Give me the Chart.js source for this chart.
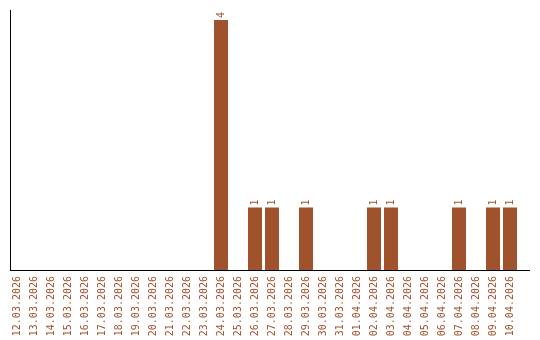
<!DOCTYPE html>
<html>
<head>
<meta charset="utf-8">
<script src="https://cdn.jsdelivr.net/npm/chart.js@4/dist/chart.umd.min.js"></script>
<style>
  html, body { margin:0; padding:0; background:#fff; }
  #wrap { width:540px; height:340px; position:relative; }
</style>
</head>
<body>
<div id="wrap"><canvas id="c"></canvas></div>
<script>
const DAYS = ['12.03.2026','13.03.2026','14.03.2026','15.03.2026','16.03.2026','17.03.2026','18.03.2026',
  '19.03.2026','20.03.2026','21.03.2026','22.03.2026','23.03.2026','24.03.2026','25.03.2026','26.03.2026',
  '27.03.2026','28.03.2026','29.03.2026','30.03.2026','31.03.2026','01.04.2026','02.04.2026','03.04.2026',
  '04.04.2026','05.04.2026','06.04.2026','07.04.2026','08.04.2026','09.04.2026','10.04.2026'];
const COUNTS = [0,0,0,0,0,0,0,0,0,0,0,0,4,0,1,1,0,1,0,0,0,1,1,0,0,0,1,0,1,1];
const Y_MAX = 4.16;

const BROWN = '#A0522D';
const FONT = "'DejaVu Sans Mono', monospace";

// axis lines + value labels on top of bars
const decor = {
  id: 'decor',
  afterDatasetsDraw(chart) {
    const ctx = chart.ctx, a = chart.chartArea;
    ctx.save();
    ctx.strokeStyle = '#000';
    ctx.lineWidth = 1;
    ctx.beginPath();
    ctx.moveTo(10.5, a.top);
    ctx.lineTo(10.5, a.bottom);
    ctx.moveTo(10, a.bottom + 0.5);
    ctx.lineTo(530, a.bottom + 0.5);
    ctx.stroke();

    ctx.fillStyle = BROWN;
    ctx.font = '10px ' + FONT;
    ctx.textAlign = 'left';
    ctx.textBaseline = 'middle';
    chart.getDatasetMeta(0).data.forEach((bar, i) => {
      const v = COUNTS[i];
      if (!v) return;
      ctx.save();
      ctx.translate(bar.x, bar.y - 2);
      ctx.rotate(-Math.PI / 2);
      ctx.fillText(String(v), 0, 0);
      ctx.restore();
    });
    ctx.restore();
  }
};

new Chart(document.getElementById('c'), {
  type: 'bar',
  data: {
    labels: DAYS,
    datasets: [{ data: COUNTS, backgroundColor: BROWN, borderWidth: 0,
      barPercentage: 14/17, categoryPercentage: 1 }]
  },
  options: {
    responsive: true, maintainAspectRatio: false, animation: false,
    layout: { padding: { left: 8.5, right: 21.5, top: 10, bottom: 0 } },
    plugins: { legend: { display: false }, tooltip: { enabled: false } },
    scales: {
      x: {
        grid: { display: false, drawTicks: false },
        border: { display: false },
        ticks: { color: BROWN, font: { family: FONT, size: 10 }, minRotation: 90, maxRotation: 90,
          autoSkip: false, padding: 6 },
        afterFit(s) { s.height = 70; }
      },
      y: { display: false, min: 0, max: Y_MAX }
    }
  },
  plugins: [decor]
});
</script>
</body>
</html>
